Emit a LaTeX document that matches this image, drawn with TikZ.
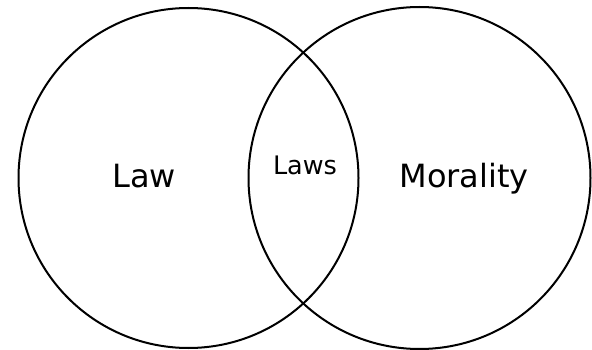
\documentclass[tikz,border=0pt]{standalone}
\usepackage{fontspec}
\setmainfont{DejaVu Sans}
\usetikzlibrary{positioning}

\begin{document}
\begin{tikzpicture}[
  x=1pt, y=-1pt,
  setcircle/.style={
    draw=black, line width=2pt, circle, inner sep=0pt,
    minimum size=#1
  },
  setlbl/.style={font=\fontsize{32}{36}\selectfont, anchor=base, inner sep=0pt},
  cutlbl/.style={font=\fontsize{25.5}{29}\selectfont, anchor=base, inner sep=0pt},
]

% Canvas
\useasboundingbox (0,0) rectangle (592,350);

% =============================================
% The two sets
% =============================================
\node[setcircle=340pt] (lawset) at (188.5,178) {};
\node[setcircle=342pt] (moralset) at (419.5,178) {};

% =============================================
% Labels
% =============================================
\node[setlbl] (lawlbl) at (144,187) {Law};
\node[cutlbl] (lawslbl) at (305,175) {Laws};
\node[setlbl] (morallbl) at (464,187) {Morality};

\end{tikzpicture}
\end{document}
